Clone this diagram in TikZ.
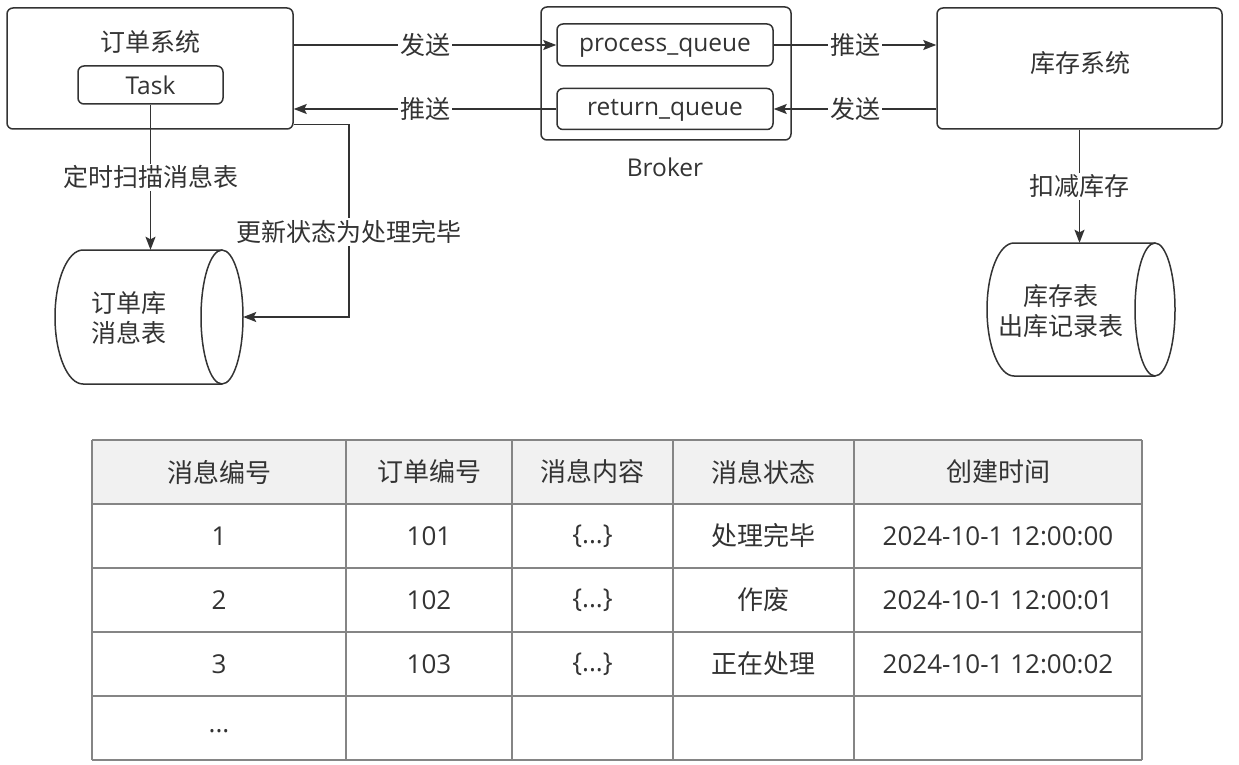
\documentclass[tikz,border=0pt]{standalone}
\usepackage{fontspec}
\setmainfont{Open Sans}
\newfontfamily\cjk{Noto Sans CJK SC}
\usetikzlibrary{arrows.meta,calc}
\definecolor{ink}{HTML}{333333}
\definecolor{tline}{HTML}{858585}
\definecolor{thead}{HTML}{F1F1F1}
\begin{document}
\begin{tikzpicture}[x=1pt,y=-1pt,
  ctext/.style={font=\cjk\fontsize{25}{30}\selectfont, text=ink},
  ltext/.style={font=\fontsize{24.5}{28}\selectfont, text=ink},
  qtext/.style={font=\fontsize{24.5}{28}\selectfont, text=ink, text height=17.5pt, text depth=4.4pt},
  box/.style={draw=ink, line width=1.5pt, rounded corners=6pt, inner sep=0pt},
  lbl/.style={ctext, fill=white, inner sep=2pt},
  arr/.style={draw=ink, line width=1.5pt, -{Stealth[length=13pt,width=10pt,inset=2.5pt]}},
  plain/.style={draw=ink, line width=1.5pt},
  cell/.style={font=\fontsize{26}{30}\selectfont, text=ink, inner sep=0pt},
  ccell/.style={font=\cjk\fontsize{26}{30}\selectfont, text=ink, inner sep=0pt}]
\useasboundingbox (0,0) rectangle (1239,765);
\fill[white] (0,0) rectangle (1239,765);

% ---- order system ----
\node[box, minimum width=286pt, minimum height=121pt] (order) at (150,68.5) {};
\node[ctext] (ordert) at (150,42) {订单系统};
\node[box, ltext, minimum width=145pt, minimum height=38pt] (task) at (150.5,85) {Task};

% ---- broker ----
\node[box, minimum width=250pt, minimum height=133pt] (broker) at (666,73.5) {};
\node[box, qtext, minimum width=216pt, minimum height=42pt] (pq) at (665,45) {process\_queue};
\node[box, qtext, minimum width=216pt, minimum height=41pt] (rq) at (665,109) {return\_queue};
\node[ltext] (brokert) at (665,167) {Broker};

% ---- inventory system ----
\node[box, minimum width=285pt, minimum height=121pt] (inv) at (1079.5,68.5) {};
\node[ctext] (invt) at (1080,63) {库存系统};

% ---- cylinder 1 ----
\node[minimum width=188pt, minimum height=134pt, inner sep=0pt] (db1) at (149,317) {};
\draw[plain, fill=white] (222,250) -- (83,250) arc[start angle=270, end angle=90, x radius=28, y radius=67] -- (222,384);
\draw[plain] (222,317) ellipse[x radius=21, y radius=67];
\node[ctext, align=center] (db1t) at (129,318) {订单库\\消息表};

% ---- cylinder 2 ----
\node[minimum width=188pt, minimum height=133pt, inner sep=0pt] (db2) at (1081,309.5) {};
\draw[plain, fill=white] (1155,243) -- (1014,243) arc[start angle=270, end angle=90, x radius=27, y radius=66.5] -- (1155,376);
\draw[plain] (1155,309.5) ellipse[x radius=20, y radius=66.5];
\node[ctext, align=center] (db2t) at (1061,311) {库存表\\出库记录表};

% ---- connectors ----
\draw[arr] (order.east |- pq.west) -- node[lbl] {发送} (pq.west);
\draw[arr] (rq.west) -- node[lbl] {推送} (order.east |- rq.west);
\draw[arr] (pq.east) -- node[lbl] {推送} (inv.west |- pq.east);
\draw[arr] (inv.west |- rq.east) -- node[lbl] {发送} (rq.east);
\draw[arr] (task.south) -- node[lbl] {定时扫描消息表} (task.south |- db1.north);
\draw[arr] (inv.south) -- node[lbl] {扣减库存} (inv.south |- db2.north);
\coordinate (bend) at (349,232);
\draw[arr] ([yshift=5pt]order.south east) -| (bend) |- (db1.east);
\node[lbl] (updt) at (bend) {更新状态为处理完毕};

% ---- table ----
\fill[thead] (92,440) rectangle (1142,504);
\foreach \x in {92,346,512,673,854,1142} \draw[tline, line width=1.5pt] (\x,440) -- (\x,760);
\foreach \y in {440,504,568,632,696,760} \draw[tline, line width=1.5pt] (92,\y) -- (1142,\y);
% header
\node[ccell] (h1) at (219,472) {消息编号};
\node[ccell] (h2) at (429,472) {订单编号};
\node[ccell] (h3) at (592.5,472) {消息内容};
\node[ccell] (h4) at (763.5,472) {消息状态};
\node[ccell] (h5) at (998,472) {创建时间};
% row 1
\node[cell] (r1a) at (219,536) {1};
\node[cell] (r1b) at (429,536) {101};
\node[cell] (r1c) at (592.5,536) {\{...\}};
\node[ccell] (r1d) at (763.5,536) {处理完毕};
\node[cell] (r1e) at (998,536) {2024-10-1 12:00:00};
% row 2
\node[cell] (r2a) at (219,600) {2};
\node[cell] (r2b) at (429,600) {102};
\node[cell] (r2c) at (592.5,600) {\{...\}};
\node[ccell] (r2d) at (763.5,600) {作废};
\node[cell] (r2e) at (998,600) {2024-10-1 12:00:01};
% row 3
\node[cell] (r3a) at (219,664) {3};
\node[cell] (r3b) at (429,664) {103};
\node[cell] (r3c) at (592.5,664) {\{...\}};
\node[ccell] (r3d) at (763.5,664) {正在处理};
\node[cell] (r3e) at (998,664) {2024-10-1 12:00:02};
% row 4
\node[cell] (r4a) at (219,731) {...};
\end{tikzpicture}
\end{document}
